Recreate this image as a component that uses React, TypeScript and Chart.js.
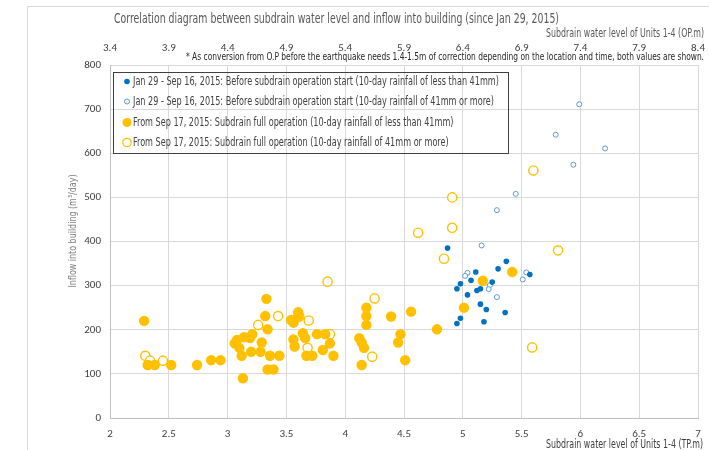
import React, { useEffect, useRef } from 'react';
import { Chart, registerables } from 'chart.js';

Chart.register(...registerables);

// ---- axis ticks ----
const xTicks = [2, 2.5, 3, 3.5, 4, 4.5, 5, 5.5, 6, 6.5, 7];
const x2Ticks = [3.4, 3.9, 4.4, 4.9, 5.4, 5.9, 6.4, 6.9, 7.4, 7.9, 8.4];
const yTicks = [0, 100, 200, 300, 400, 500, 600, 700, 800];

// ---- series: Jan 29 - Sep 16, 2015, rainfall < 41mm (blue filled) ----
const blueFilledX = [4.87, 5.37, 5.30, 5.11, 5.57, 5.07, 4.98, 5.25, 4.95, 5.15, 5.12, 5.04, 5.15, 5.20, 5.36, 4.98, 4.95, 5.18];
const blueFilledY = [385, 355, 338, 331, 325, 312, 304, 308, 293, 293, 289, 279, 258, 246, 239, 226, 214, 218];

// ---- series: Jan 29 - Sep 16, 2015, rainfall >= 41mm (blue open) ----
const blueOpenX = [5.99, 5.79, 6.21, 5.94, 5.45, 5.29, 5.16, 5.04, 5.02, 5.54, 5.51, 5.23, 5.22, 5.29];
const blueOpenY = [711, 642, 611, 574, 508, 471, 391, 329, 322, 330, 314, 301, 292, 274];

// ---- series: From Sep 17, 2015, rainfall < 41mm (orange filled) ----
const orangeFilledX = [5.42, 5.17, 5.01, 4.56, 4.78, 4.47, 4.45, 4.51, 3.33, 3.32, 3.34, 3.60, 3.54, 3.56, 3.60, 3.64, 3.66, 3.56, 3.57, 3.76, 3.83, 3.87, 3.81, 3.67, 3.72, 3.90, 3.08, 3.14, 3.21, 3.06, 3.10, 3.19, 3.29, 3.12, 3.20, 3.28, 3.36, 3.44, 3.34, 3.39, 3.13, 2.86, 2.94, 4.18, 4.18, 4.18, 4.12, 4.14, 4.16, 4.14, 4.39, 2.29, 2.32, 2.38, 2.52, 2.74];
const orangeFilledY = [331, 311, 250, 241, 201, 190, 171, 131, 270, 231, 201, 240, 222, 216, 230, 192, 181, 178, 162, 190, 190, 169, 154, 141, 141, 141, 177, 183, 190, 169, 159, 181, 171, 141, 150, 150, 141, 141, 110, 110, 90, 131, 131, 250, 231, 211, 181, 171, 159, 120, 230, 220, 120, 120, 120, 120];

// ---- series: From Sep 17, 2015, rainfall >= 41mm (orange open) ----
const orangeOpenX = [2.30, 2.34, 2.45, 3.85, 4.25, 3.43, 3.26, 3.61, 3.69, 3.87, 3.68, 4.23, 5.60, 4.91, 4.91, 4.62, 4.84, 5.81, 5.59];
const orangeOpenY = [141, 130, 130, 309, 271, 231, 211, 230, 221, 190, 159, 139, 561, 500, 431, 420, 361, 380, 160];

// ---- texts ----
const titleText = 'Correlation diagram between subdrain water level and inflow into building (since Jan 29, 2015)';
const topAxisTitle = 'Subdrain water level of Units 1-4 (OP.m)';
const bottomAxisTitle = 'Subdrain water level of Units 1-4 (TP.m)';
const yAxisTitle = 'Inflow into building (m\u00B3/day)';
const noteText = '* As conversion from O.P before the earthquake needs 1.4-1.5m of correction depending on the location and time, both values are shown.';
const legendLabels = [
  'Jan 29 - Sep 16, 2015: Before subdrain operation start (10-day rainfall of less than 41mm)',
  'Jan 29 - Sep 16, 2015: Before subdrain operation start (10-day rainfall of 41mm or more)',
  'From Sep 17, 2015: Subdrain full operation (10-day rainfall of less than 41mm)',
  'From Sep 17, 2015: Subdrain full operation (10-day rainfall of 41mm or more)',
];

const BLUE = '#0070C0';
const BLUE_LIGHT = '#5B9BD5';
const ORANGE = '#FFC000';
const NARROW = '"Liberation Sans Narrow", "DejaVu Sans Condensed", "Arial Narrow", sans-serif';
const TICKFONT = 'Carlito, Lato, "Liberation Sans", sans-serif';

const pts = (xs: number[], ys: number[]) => xs.map((x, i) => ({ x, y: ys[i] }));

function fitText(ctx: CanvasRenderingContext2D, text: string, x: number, y: number, width: number, align: 'left' | 'right' | 'center', font: string, color: string) {
  ctx.save();
  ctx.font = font;
  ctx.fillStyle = color;
  ctx.textBaseline = 'middle';
  ctx.textAlign = 'left';
  const w = ctx.measureText(text).width;
  const sx = width / w;
  const left = align === 'left' ? x : align === 'right' ? x - width : x - width / 2;
  ctx.translate(left, y);
  ctx.scale(sx, 1);
  ctx.fillText(text, 0, 0);
  ctx.restore();
}

const decorPlugin = {
  id: 'decor',
  afterDraw(chart: any) {
    const ctx: CanvasRenderingContext2D = chart.ctx;
    // outer frame
    ctx.save();
    ctx.strokeStyle = '#d9d9d9';
    ctx.lineWidth = 1;
    ctx.beginPath();
    ctx.moveTo(27.5, 450);
    ctx.lineTo(27.5, 6.5);
    ctx.lineTo(709, 6.5);
    ctx.stroke();
    ctx.restore();

    fitText(ctx, titleText, 114, 19, 445, 'left', `14px ${NARROW}`, '#595959');
    fitText(ctx, topAxisTitle, 704, 34, 158, 'right', `12px ${NARROW}`, '#595959');
    fitText(ctx, noteText, 186, 57, 518, 'left', `11px ${NARROW}`, '#262626');
    fitText(ctx, bottomAxisTitle, 703, 445, 157, 'right', `12px ${NARROW}`, '#404040');

    ctx.save();
    ctx.translate(73, 231);
    ctx.rotate(-Math.PI / 2);
    fitText(ctx, yAxisTitle, 0, 0, 113, 'center', `11px ${NARROW}`, '#808080');
    ctx.restore();

    // legend box
    ctx.save();
    ctx.strokeStyle = '#404040';
    ctx.lineWidth = 1;
    ctx.strokeRect(113.5, 72.5, 395, 81);
    ctx.restore();

    ctx.save();
    ctx.font = `12px ${NARROW}`;
    const sx = 361 / ctx.measureText(legendLabels[1]).width;
    ctx.restore();
    const rowsY = [81.5, 101.5, 122.5, 142.5];
    const markers = [
      { r: 2.8, fill: BLUE, stroke: BLUE, lw: 0 },
      { r: 2.5, fill: '#ffffff', stroke: BLUE_LIGHT, lw: 1 },
      { r: 4.5, fill: ORANGE, stroke: ORANGE, lw: 0 },
      { r: 4.2, fill: '#ffffff', stroke: ORANGE, lw: 1.3 },
    ];
    legendLabels.forEach((lab, i) => {
      const m = markers[i];
      ctx.save();
      ctx.beginPath();
      ctx.arc(127, rowsY[i], m.r, 0, Math.PI * 2);
      ctx.fillStyle = m.fill;
      ctx.fill();
      if (m.lw > 0) {
        ctx.strokeStyle = m.stroke;
        ctx.lineWidth = m.lw;
        ctx.stroke();
      }
      ctx.restore();
      ctx.save();
      ctx.font = `12px ${NARROW}`;
      const w = ctx.measureText(lab).width * sx;
      ctx.restore();
      fitText(ctx, lab, 133, rowsY[i], w, 'left', `12px ${NARROW}`, '#404040');
    });
  },
};

const fmtX = (v: number) => (Math.abs(v - Math.round(v)) < 1e-9 ? String(Math.round(v)) : v.toFixed(1));

export default function App() {
  const ref = useRef<HTMLCanvasElement>(null);
  useEffect(() => {
    const canvas = ref.current;
    if (!canvas) return;
    const tickFont = { family: TICKFONT, size: 11 };
    const chart = new Chart(canvas, {
      type: 'scatter',
      data: {
        datasets: [
          {
            label: legendLabels[0],
            data: pts(blueFilledX, blueFilledY),
            pointRadius: 2.8,
            backgroundColor: BLUE,
            borderColor: BLUE,
            borderWidth: 0,
            xAxisID: 'x',
            order: 0,
          },
          {
            label: legendLabels[1],
            data: pts(blueOpenX, blueOpenY),
            pointRadius: 2.5,
            backgroundColor: '#ffffff',
            borderColor: BLUE_LIGHT,
            borderWidth: 1,
            xAxisID: 'x',
            order: 1,
          },
          {
            label: legendLabels[2],
            data: pts(orangeFilledX, orangeFilledY),
            pointRadius: 5.2,
            backgroundColor: ORANGE,
            borderColor: ORANGE,
            borderWidth: 0,
            xAxisID: 'x',
            order: 2,
          },
          {
            label: legendLabels[3],
            data: pts(orangeOpenX, orangeOpenY),
            pointRadius: 4.6,
            backgroundColor: '#ffffff',
            borderColor: ORANGE,
            borderWidth: 1.4,
            xAxisID: 'x',
            order: 3,
          },
        ],
      },
      options: {
        animation: false,
        responsive: false,
        devicePixelRatio: 1,
        layout: { padding: { left: 27, right: 11, top: 0, bottom: 0 }, autoPadding: false },
        plugins: {
          legend: { display: false },
          tooltip: { enabled: false },
          title: { display: false },
        },
        scales: {
          x: {
            type: 'linear',
            position: 'bottom',
            min: 2,
            max: 7,
            afterBuildTicks: (s: any) => {
              s.ticks = xTicks.map((v) => ({ value: v }));
            },
            afterFit: (s: any) => {
              s.height = 32;
              s.paddingLeft = 0;
              s.paddingRight = 0;
            },
            grid: { color: '#d9d9d9', drawTicks: false },
            border: { color: '#bfbfbf' },
            ticks: {
              padding: 10,
              font: tickFont,
              color: '#404040',
              maxRotation: 0,
              autoSkip: false,
              callback: (v: any) => fmtX(Number(v)),
            },
          },
          x2: {
            type: 'linear',
            position: 'top',
            min: 3.4,
            max: 8.4,
            afterBuildTicks: (s: any) => {
              s.ticks = x2Ticks.map((v) => ({ value: v }));
            },
            afterFit: (s: any) => {
              s.height = 65;
              s.paddingLeft = 0;
              s.paddingRight = 0;
            },
            grid: { display: false, drawTicks: false },
            border: { color: '#d9d9d9' },
            ticks: {
              padding: 10,
              font: tickFont,
              color: '#404040',
              maxRotation: 0,
              autoSkip: false,
              callback: (v: any) => Number(v).toFixed(1),
            },
          },
          y: {
            type: 'linear',
            min: 0,
            max: 800,
            afterBuildTicks: (s: any) => {
              s.ticks = yTicks.map((v) => ({ value: v }));
            },
            afterFit: (s: any) => {
              s.width = 83;
              s.paddingTop = 0;
              s.paddingBottom = 0;
            },
            grid: { color: '#d9d9d9', drawTicks: false },
            border: { color: '#bfbfbf' },
            ticks: {
              padding: 9,
              font: tickFont,
              color: '#404040',
              callback: (v: any) => String(v),
            },
          },
        },
      } as any,
      plugins: [decorPlugin],
    });
    return () => chart.destroy();
  }, []);

  return (
    <div style={{ position: 'absolute', left: 0, top: 0, width: 709, height: 450, background: '#ffffff' }}>
      <canvas ref={ref} width={709} height={450} style={{ display: 'block', width: 709, height: 450 }} />
    </div>
  );
}
